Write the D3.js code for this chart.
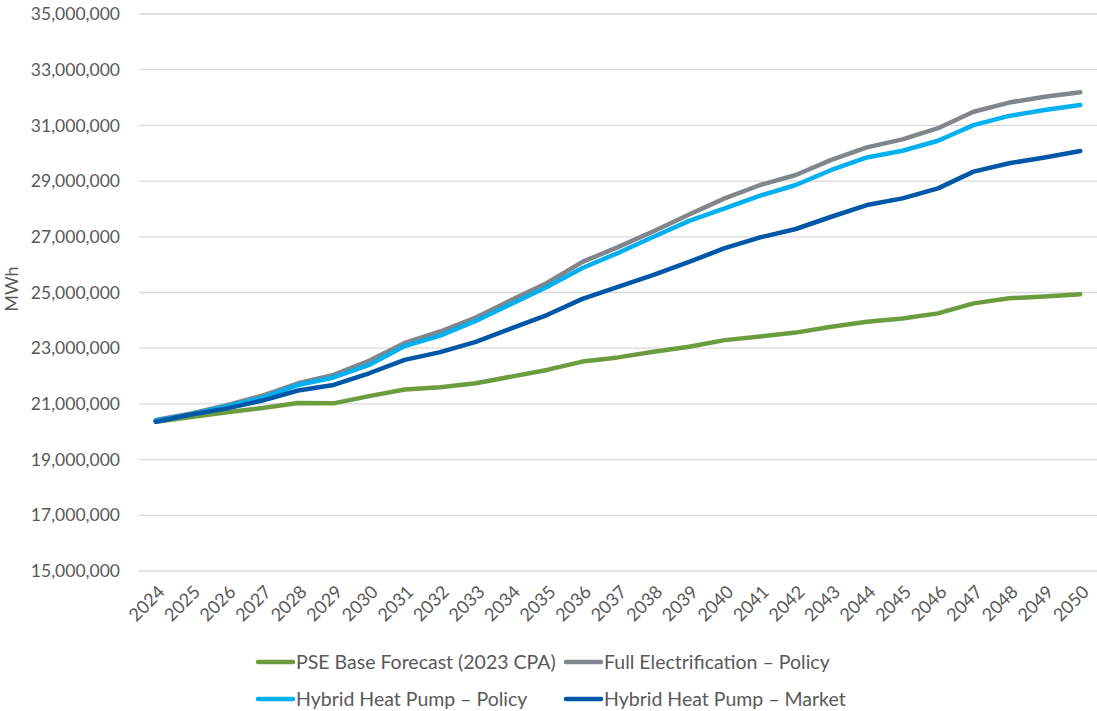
<!DOCTYPE html>
<html><head><meta charset="utf-8">
<script src="https://cdn.jsdelivr.net/npm/d3@7"></script>
<style>body{margin:0;background:#fff}svg{display:block}text{font-family:Lato,"Liberation Sans",sans-serif;fill:#595959}</style>
</head><body><svg id="c" width="1097" height="711"></svg>
<script>
const years = d3.range(2024, 2051).map(String);
const yTicks = [15e6,17e6,19e6,21e6,23e6,25e6,27e6,29e6,31e6,33e6,35e6];
const seriesNames = ["PSE Base Forecast (2023 CPA)","Full Electrification \u2013 Policy","Hybrid Heat Pump \u2013 Policy","Hybrid Heat Pump \u2013 Market"];
const seriesColors = ["#6B9D3F","#80868B","#00B0F0","#0057A8"];
const pseBase = [20.36,20.53,20.70,20.85,21.03,21.02,21.28,21.52,21.60,21.74,21.98,22.22,22.52,22.67,22.87,23.05,23.29,23.42,23.56,23.77,23.95,24.07,24.25,24.61,24.79,24.86,24.94];
const fullElecPolicy = [20.42,20.66,20.95,21.30,21.74,22.04,22.55,23.19,23.60,24.10,24.73,25.34,26.10,26.63,27.20,27.80,28.38,28.86,29.22,29.76,30.21,30.50,30.90,31.49,31.82,32.03,32.19];
const hybridPolicy = [20.40,20.63,20.92,21.22,21.68,21.95,22.40,23.08,23.45,23.98,24.59,25.20,25.88,26.42,27.00,27.57,28.02,28.48,28.86,29.40,29.85,30.09,30.45,31.01,31.34,31.55,31.73];
const hybridMarket = [20.36,20.62,20.84,21.12,21.48,21.68,22.10,22.58,22.86,23.23,23.71,24.19,24.77,25.20,25.63,26.10,26.59,26.98,27.28,27.72,28.14,28.38,28.74,29.34,29.64,29.85,30.08];
const allSeries = [pseBase, fullElecPolicy, hybridPolicy, hybridMarket];

const svg = d3.select("#c");
const x = d3.scaleBand().domain(years).range([138, 1098]);
const y = d3.scaleLinear().domain([15e6, 35e6]).range([571, 14]);

svg.append("g").selectAll("line").data(yTicks).join("line")
  .attr("x1", 139).attr("x2", 1097)
  .attr("y1", d => y(d)).attr("y2", d => y(d))
  .attr("stroke", "#d9d9d9").attr("stroke-width", 1.3);

const yAxis = svg.append("g").attr("transform", "translate(120,0)")
  .call(d3.axisLeft(y).tickValues(yTicks).tickSize(0).tickPadding(0).tickFormat(d3.format(",")));
yAxis.select(".domain").remove();
yAxis.selectAll("text").style("font-size", "17.5px").attr("fill", "#595959").style("font-family", "Lato,'Liberation Sans',sans-serif");

const xAxis = svg.append("g").attr("transform", "translate(0,571)")
  .call(d3.axisBottom(x).tickSize(0).tickPadding(0));
xAxis.select(".domain").remove();
xAxis.selectAll("text").style("font-size", "18px").attr("fill", "#595959")
  .style("font-family", "Lato,'Liberation Sans',sans-serif")
  .attr("text-anchor", "end").attr("dy", null).attr("y", 0)
  .attr("transform", "translate(10,22) rotate(-45)");

svg.append("text").attr("transform", "translate(18,289) rotate(-90)")
  .attr("text-anchor", "middle").style("font-size", "18px").text("MWh");

const line = d3.line().x((d, i) => x(years[i]) + x.bandwidth() / 2).y(d => y(d * 1e6));
allSeries.forEach((s, i) => {
  svg.append("path").datum(s).attr("d", line).attr("fill", "none")
    .attr("stroke", seriesColors[i]).attr("stroke-width", 4.5)
    .attr("stroke-linecap", "round").attr("stroke-linejoin", "round");
});

const legPos = [[258, 662], [566, 662], [258, 699], [566, 699]];
seriesNames.forEach((n, i) => {
  const [lx, ly] = legPos[i];
  svg.append("line").attr("x1", lx).attr("x2", lx + 35).attr("y1", ly).attr("y2", ly)
    .attr("stroke", seriesColors[i]).attr("stroke-width", 4.5).attr("stroke-linecap", "round");
  svg.append("text").attr("x", lx + 38).attr("y", ly).attr("dy", "0.35em")
    .style("font-size", "19.5px").text(n);
});
</script></body></html>
